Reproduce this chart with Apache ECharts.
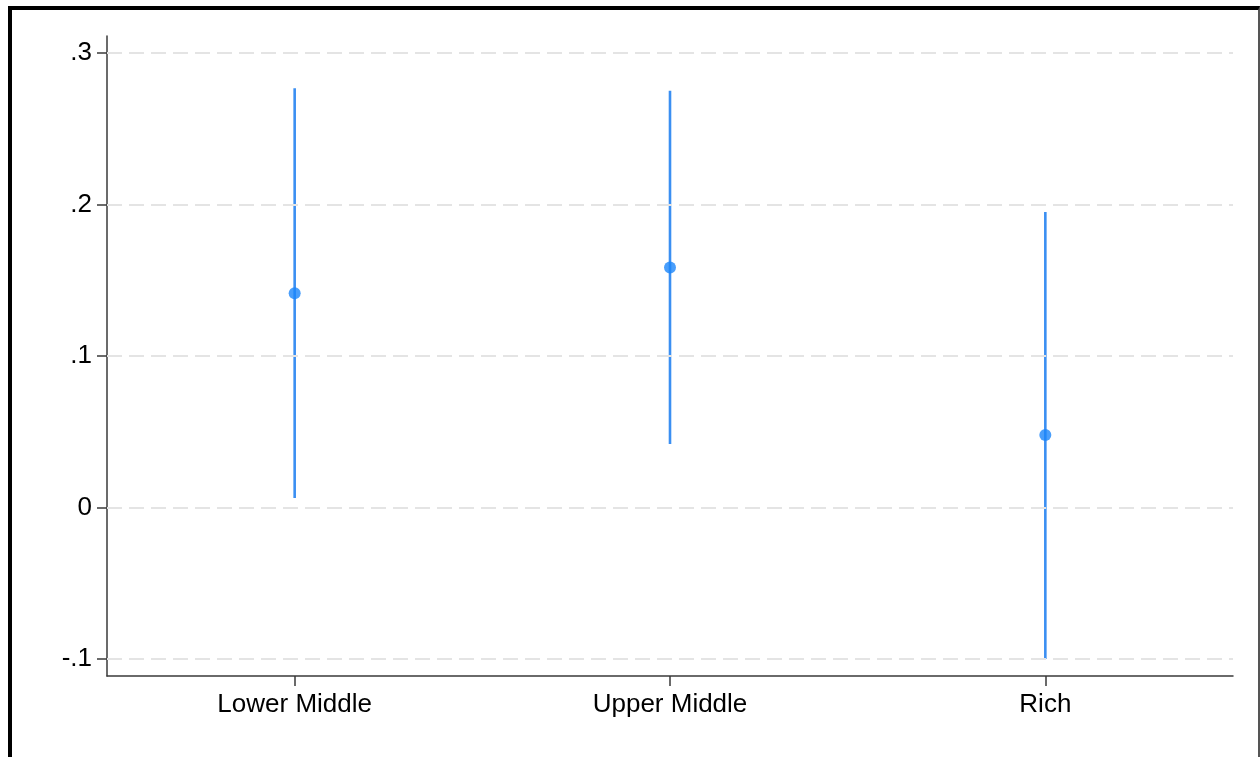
<!DOCTYPE html>
<html>
<head>
<meta charset="utf-8">
<script src="https://cdn.jsdelivr.net/npm/echarts@6/dist/echarts.min.js"></script>
<style>
  html, body { margin: 0; padding: 0; background: #fff; }
  #frame {
    position: absolute; left: 8px; top: 6px; width: 1246px; height: 800px;
    border-left: 4px solid #000; border-top: 4px solid #000; border-right: 2px solid #555;
  }
  #chart { position: absolute; left: 0; top: 0; width: 1260px; height: 757px; }
</style>
</head>
<body>
<div id="frame"></div>
<div id="chart"></div>
<script>
// Income groups and their point estimates with confidence bounds
const categories = ['Lower Middle', 'Upper Middle', 'Rich'];
const estimates = [0.1414, 0.1584, 0.0479];
const lowerBounds = [0.0063, 0.0419, -0.1000];
const upperBounds = [0.2767, 0.2750, 0.1950];
const yTickValues = [-0.1, 0, 0.1, 0.2, 0.3];
const yTickLabels = ['-.1', '0', '.1', '.2', '.3'];

const ciData = categories.map((c, i) => [i, lowerBounds[i], upperBounds[i]]);
const pointData = categories.map((c, i) => [i, estimates[i]]);

const FONT = 'Liberation Sans, Arial, sans-serif';

const chart = echarts.init(document.getElementById('chart'), null, { renderer: 'canvas' });
chart.setOption({
  animation: false,
  backgroundColor: 'transparent',
  textStyle: { fontFamily: FONT },
  grid: { left: 107, top: 36, right: 27, bottom: 81, containLabel: false },
  xAxis: {
    type: 'category',
    data: categories,
    boundaryGap: true,
    axisLine: { show: true, onZero: false, lineStyle: { color: '#3a3a3a', width: 1.5 } },
    axisTick: { show: true, alignWithLabel: true, length: 10, lineStyle: { color: '#3a3a3a', width: 1.5 } },
    axisLabel: { color: '#000', fontSize: 26, margin: 16, fontFamily: FONT },
    splitLine: { show: false }
  },
  yAxis: {
    type: 'value',
    min: -0.1112,
    max: 0.3112,
    axisLine: { show: true, onZero: false, lineStyle: { color: '#3a3a3a', width: 1.5 } },
    axisTick: { show: true, length: 10, customValues: yTickValues, lineStyle: { color: '#3a3a3a', width: 1.5 } },
    axisLabel: {
      customValues: yTickValues,
      color: '#000', fontSize: 26, margin: 15,
      padding: [6, 0, 0, 0],
      fontFamily: FONT,
      formatter: v => {
        const idx = yTickValues.findIndex(t => Math.abs(t - v) < 1e-9);
        return idx >= 0 ? yTickLabels[idx] : '';
      }
    },
    splitLine: { show: false }
  },
  series: [
    {
      // dashed horizontal reference lines at each labelled tick
      type: 'line',
      data: [],
      silent: true,
      markLine: {
        silent: true,
        symbol: 'none',
        label: { show: false },
        lineStyle: { color: '#e4e4e4', width: 2, type: [15, 7] },
        data: yTickValues.map(v => ({ yAxis: v }))
      }
    },
    {
      // confidence interval bars
      type: 'custom',
      data: ciData,
      renderItem: (params, api) => {
        const x = api.value(0);
        const lo = api.coord([x, api.value(1)]);
        const hi = api.coord([x, api.value(2)]);
        return {
          type: 'line',
          shape: { x1: lo[0], y1: lo[1], x2: hi[0], y2: hi[1] },
          style: { stroke: '#3b8ff2', lineWidth: 2.6 }
        };
      },
      z: 3
    },
    {
      type: 'scatter',
      data: pointData,
      symbol: 'circle',
      symbolSize: 12,
      itemStyle: { color: '#1b86fa' },
      z: 4
    }
  ]
});
</script>
</body>
</html>
